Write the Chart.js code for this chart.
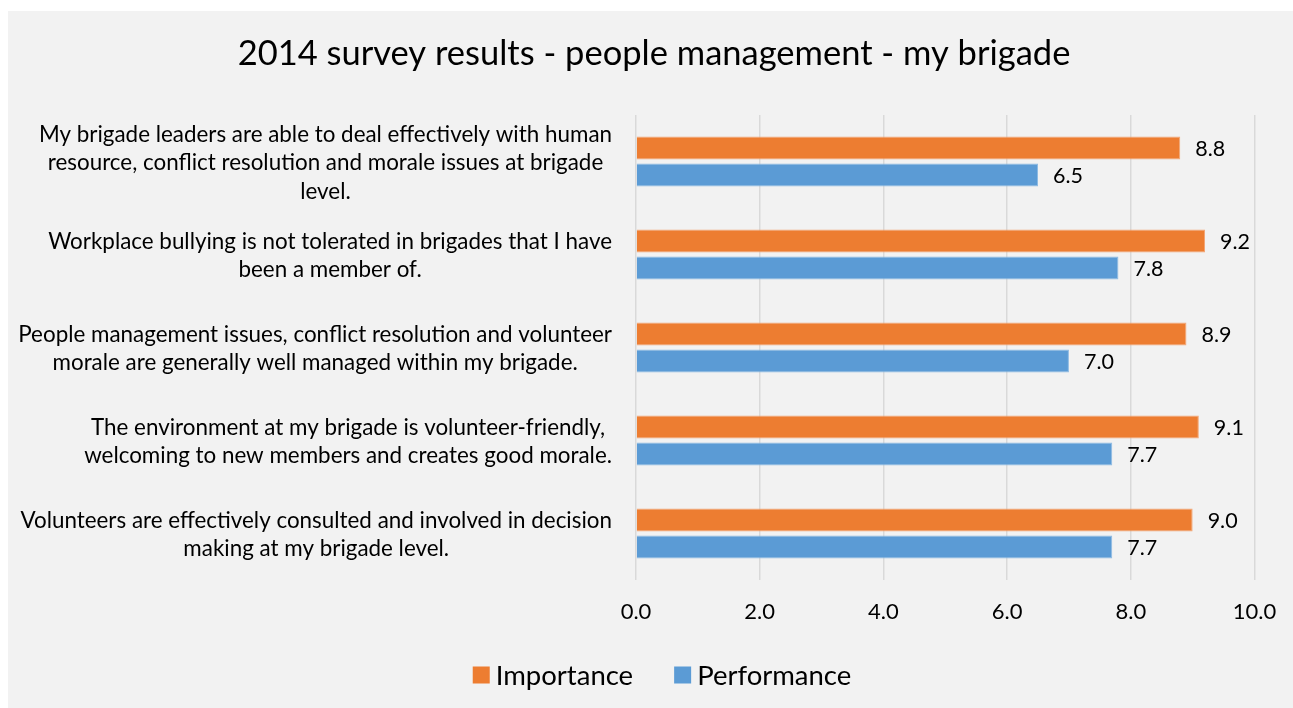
<!DOCTYPE html>
<html>
<head>
<meta charset="utf-8">
<title>2014 survey results - people management - my brigade</title>
<script src="https://cdn.jsdelivr.net/npm/chart.js@4"></script>
<style>
  html, body { margin: 0; padding: 0; background: #ffffff; }
  #wrap { width: 1293px; height: 708px; position: relative; }
</style>
</head>
<body>
<div id="wrap"><canvas id="chart" width="1293" height="708"></canvas></div>
<script>
// Survey statements (each entry is one wrapped label, one line per string)
const statements = [
  ["My brigade leaders are able to deal effectively with human",
   "resource, conflict resolution and morale issues at brigade",
   "level."],
  ["Workplace bullying is not tolerated in brigades that I have",
   "been a member of."],
  ["People management issues, conflict resolution and volunteer",
   "morale are generally well managed within my brigade."],
  ["The environment at my brigade is volunteer-friendly,",
   "welcoming to new members and creates good morale."],
  ["Volunteers are effectively consulted and involved in decision",
   "making at my brigade level."]
];

// Mean scores (0-10) per statement
const importance  = [8.8, 9.2, 8.9, 9.1, 9.0];
const performance = [6.5, 7.8, 7.0, 7.7, 7.7];

const seriesNames = ["Importance", "Performance"];
const xTicks = [0, 2, 4, 6, 8, 10];
const chartTitle = "2014 survey results - people management - my brigade";

const FONT = "Lato, 'Open Sans', 'DejaVu Sans', sans-serif";
const TEXT = "#000000";

// Panel background: white page with a light grey chart panel
const panelBackground = {
  id: 'panelBackground',
  beforeDraw(chart) {
    const { ctx, width, height } = chart;
    ctx.save();
    ctx.fillStyle = '#ffffff';
    ctx.fillRect(0, 0, width, height);
    ctx.fillStyle = '#f2f2f2';
    ctx.fillRect(8, 11, width - 8, height - 11);
    ctx.restore();
  }
};

// Title centred over the grey panel
const panelTitle = {
  id: 'panelTitle',
  afterDraw(chart) {
    const { ctx } = chart;
    ctx.save();
    ctx.font = "34.5px " + FONT;
    ctx.fillStyle = TEXT;
    ctx.textAlign = 'center';
    ctx.textBaseline = 'middle';
    ctx.fillText(chartTitle, 654, 54);
    ctx.restore();
  }
};

// Category labels: each wrapped label is centred on itself, blocks right-aligned to the axis
const statementLabels = {
  id: 'statementLabels',
  afterDraw(chart) {
    const { ctx } = chart;
    const y = chart.scales.y;
    const right = y.right - 24;
    const lineGap = 28.5;
    ctx.save();
    ctx.font = "22.4px " + FONT;
    ctx.fillStyle = TEXT;
    ctx.textAlign = 'center';
    ctx.textBaseline = 'middle';
    statements.forEach((lines, i) => {
      const widest = Math.max(...lines.map(l => ctx.measureText(l).width));
      const cx = right - widest / 2;
      const cy = y.getPixelForValue(i) + 1.5;
      const top = cy - (lines.length - 1) * lineGap / 2;
      lines.forEach((l, k) => ctx.fillText(l, cx, top + k * lineGap));
    });
    ctx.restore();
  }
};

// Value labels just past the end of each bar
const valueLabels = {
  id: 'valueLabels',
  afterDatasetsDraw(chart) {
    const { ctx } = chart;
    ctx.save();
    ctx.font = "21.5px " + FONT;
    ctx.fillStyle = TEXT;
    ctx.textAlign = 'left';
    ctx.textBaseline = 'middle';
    chart.data.datasets.forEach((ds, di) => {
      chart.getDatasetMeta(di).data.forEach((bar, i) => {
        ctx.fillText(ds.data[i].toFixed(1), bar.x + 15, bar.y + 1.5);
      });
    });
    ctx.restore();
  }
};

// Legend row under the axis: square swatch + series name
const seriesLegend = {
  id: 'seriesLegend',
  afterDraw(chart) {
    const { ctx } = chart;
    const box = 17, gapText = 6, gapItem = 41;
    const centerX = 662, centerY = 675;
    ctx.save();
    ctx.font = "27.5px " + FONT;
    ctx.textBaseline = 'middle';
    ctx.textAlign = 'left';
    const items = chart.data.datasets.map(ds => ({
      name: ds.label, color: ds.backgroundColor, w: ctx.measureText(ds.label).width
    }));
    const total = items.reduce((s, it) => s + box + gapText + it.w, 0) + gapItem * (items.length - 1);
    let x = centerX - total / 2;
    items.forEach(it => {
      ctx.fillStyle = it.color;
      ctx.fillRect(x, centerY - box / 2, box, box);
      ctx.fillStyle = TEXT;
      ctx.fillText(it.name, x + box + gapText, centerY + 1);
      x += box + gapText + it.w + gapItem;
    });
    ctx.restore();
  }
};

new Chart(document.getElementById('chart'), {
  type: 'bar',
  data: {
    labels: statements.map(s => s.join(' ')),
    datasets: [
      {
        label: seriesNames[0],
        data: importance,
        backgroundColor: '#ED7D31',
        borderColor: '#F3A777',
        borderWidth: 1,
        categoryPercentage: 0.58,
        barPercentage: 0.85
      },
      {
        label: seriesNames[1],
        data: performance,
        backgroundColor: '#5B9BD5',
        borderColor: '#8FBBE3',
        borderWidth: 1,
        categoryPercentage: 0.58,
        barPercentage: 0.85
      }
    ]
  },
  options: {
    indexAxis: 'y',
    responsive: false,
    animation: false,
    devicePixelRatio: 1,
    layout: { padding: { left: 8, right: 38.5, top: 115, bottom: 83 } },
    scales: {
      x: {
        min: 0,
        max: 10,
        afterBuildTicks(scale) {
          scale.ticks = xTicks.map(v => ({ value: v }));
        },
        afterFit(scale) {
          scale.paddingLeft = 0;
          scale.paddingRight = 0;
          scale.height = 45;
        },
        grid: { color: '#d9d9d9', lineWidth: 1.5, drawTicks: false },
        border: { display: false },
        ticks: {
          padding: 19,
          color: TEXT,
          font: { family: FONT, size: 22 },
          callback: v => Number(v).toFixed(1)
        }
      },
      y: {
        grid: { display: false, drawTicks: false },
        border: { display: false },
        ticks: { display: false },
        afterFit(scale) { scale.width = 628; }
      }
    },
    plugins: {
      title: { display: false },
      legend: { display: false },
      tooltip: { enabled: false }
    }
  },
  plugins: [panelBackground, panelTitle, statementLabels, valueLabels, seriesLegend]
});
</script>
</body>
</html>
